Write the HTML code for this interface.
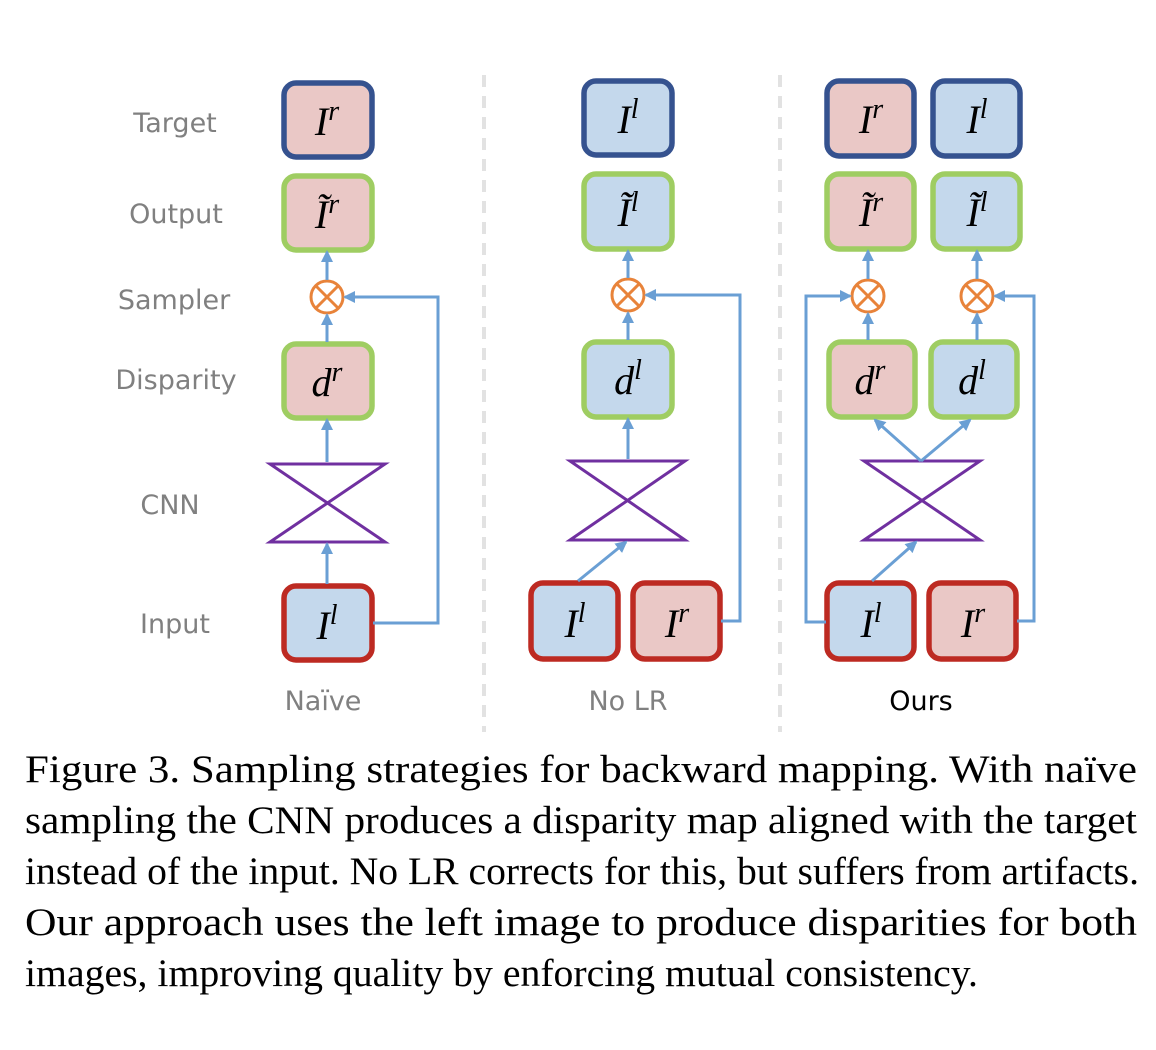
<!DOCTYPE html>
<html><head><meta charset="utf-8"><style>
html,body{margin:0;padding:0;background:#fff;}
svg{display:block}
.lab{font-family:"DejaVu Sans","Liberation Sans",sans-serif;font-size:27px;fill:#808080;text-anchor:middle}
.m{font-family:"Liberation Serif",serif;font-style:italic;font-size:40px;fill:#000;text-anchor:middle}
.cap{font-family:"Liberation Serif",serif;font-size:39px;fill:#000}
</style></head><body>
<svg width="1156" height="1050" viewBox="0 0 1156 1050" xmlns="http://www.w3.org/2000/svg">
<defs>
<marker id="a" markerWidth="12" markerHeight="12" refX="10" refY="6" orient="auto" markerUnits="userSpaceOnUse"><path d="M0,0 L12,6 L0,12 z" fill="#6a9fd4"/></marker>
</defs>
<line x1="484" y1="75" x2="484" y2="732" stroke="#e2e2e2" stroke-width="4" stroke-dasharray="12,9"/>
<line x1="780" y1="75" x2="780" y2="732" stroke="#e2e2e2" stroke-width="4" stroke-dasharray="12,9"/>
<text class="lab" x="175" y="132">Target</text>
<text class="lab" x="176" y="223">Output</text>
<text class="lab" x="174" y="309">Sampler</text>
<text class="lab" x="176" y="389">Disparity</text>
<text class="lab" x="170" y="514">CNN</text>
<text class="lab" x="175" y="633">Input</text>
<text class="lab" x="323" y="710">Naïve</text>
<text class="lab" x="628" y="710">No LR</text>
<text class="lab" x="921" y="710" style="fill:#000">Ours</text>

<g stroke-width="5.5">
<rect x="284" y="83" width="88" height="74" rx="12" fill="#eac8c6" stroke="#35528f"/>
<rect x="284" y="176" width="88" height="74" rx="12" fill="#eac8c6" stroke="#9fcd62"/>
<rect x="284" y="344" width="88" height="74" rx="12" fill="#eac8c6" stroke="#9fcd62"/>
<rect x="284" y="586" width="88" height="74" rx="12" fill="#c4d8ec" stroke="#bd2a22"/>
<rect x="584" y="81" width="88" height="74" rx="12" fill="#c4d8ec" stroke="#35528f"/>
<rect x="584" y="174" width="88" height="75" rx="12" fill="#c4d8ec" stroke="#9fcd62"/>
<rect x="584" y="342" width="88" height="75" rx="12" fill="#c4d8ec" stroke="#9fcd62"/>
<rect x="531" y="583" width="87" height="76" rx="12" fill="#c4d8ec" stroke="#bd2a22"/>
<rect x="633" y="583" width="87" height="76" rx="12" fill="#eac8c6" stroke="#bd2a22"/>
<rect x="827" y="81" width="87" height="75" rx="12" fill="#eac8c6" stroke="#35528f"/>
<rect x="933" y="81" width="87" height="75" rx="12" fill="#c4d8ec" stroke="#35528f"/>
<rect x="827" y="174" width="87" height="75" rx="12" fill="#eac8c6" stroke="#9fcd62"/>
<rect x="933" y="174" width="87" height="75" rx="12" fill="#c4d8ec" stroke="#9fcd62"/>
<rect x="829" y="342" width="86" height="75" rx="12" fill="#eac8c6" stroke="#9fcd62"/>
<rect x="931" y="342" width="86" height="75" rx="12" fill="#c4d8ec" stroke="#9fcd62"/>
<rect x="827" y="583" width="87" height="76" rx="12" fill="#c4d8ec" stroke="#bd2a22"/>
<rect x="929" y="583" width="87" height="76" rx="12" fill="#eac8c6" stroke="#bd2a22"/>
</g>

<g fill="none" stroke="#7030a0" stroke-width="3">
<path d="M270,464 L385,464 L270,542 L385,542 Z"/>
<path d="M570,461 L685,461 L570,540 L685,540 Z"/>
<path d="M864,461 L980,461 L864,540 L980,540 Z"/>
</g>

<g fill="#fff" stroke="#e8833a" stroke-width="3">
<circle cx="327" cy="297" r="16"/><path d="M316,286 L338,308 M338,286 L316,308"/>
<circle cx="628" cy="295" r="16"/><path d="M617,284 L639,306 M639,284 L617,306"/>
<circle cx="868" cy="296" r="16"/><path d="M857,285 L879,307 M879,285 L857,307"/>
<circle cx="977" cy="296" r="16"/><path d="M966,285 L988,307 M988,285 L966,307"/>
</g>

<g fill="none" stroke="#6a9fd4" stroke-width="3" marker-end="url(#a)">
<line x1="327" y1="342" x2="327" y2="315"/>
<line x1="327" y1="280" x2="327" y2="252"/>
<line x1="327" y1="462" x2="327" y2="420"/>
<line x1="327" y1="584" x2="327" y2="544"/>
<path d="M373,623 L438,623 L438,297 L345,297"/>
<line x1="628" y1="340" x2="628" y2="313"/>
<line x1="628" y1="278" x2="628" y2="251"/>
<line x1="628" y1="459" x2="628" y2="419"/>
<line x1="578" y1="581" x2="626" y2="542"/>
<path d="M721,621 L740,621 L740,295 L646,295"/>
<line x1="868" y1="340" x2="868" y2="314"/>
<line x1="868" y1="279" x2="868" y2="251"/>
<line x1="977" y1="340" x2="977" y2="314"/>
<line x1="977" y1="279" x2="977" y2="251"/>
<line x1="921" y1="461" x2="875" y2="420"/>
<line x1="921" y1="461" x2="970" y2="420"/>
<line x1="872" y1="581" x2="916" y2="542"/>
<path d="M826,622 L806,622 L806,296 L850,296"/>
<path d="M1017,621 L1034,621 L1034,296 L995,296"/>
</g>

<g>
<text x="327" y="135" class="m">I<tspan dy="-15" font-size="28">r</tspan></text>
<text x="327" y="228" class="m">Ĩ<tspan dy="-15" font-size="28">r</tspan></text>
<text x="327" y="396" class="m">d<tspan dy="-15" font-size="28">r</tspan></text>
<text x="327" y="639" class="m">I<tspan dy="-15" font-size="28">l</tspan></text>
<text x="628" y="133" class="m">I<tspan dy="-15" font-size="28">l</tspan></text>
<text x="628" y="226" class="m">Ĩ<tspan dy="-15" font-size="28">l</tspan></text>
<text x="628" y="394" class="m">d<tspan dy="-15" font-size="28">l</tspan></text>
<text x="575" y="637" class="m">I<tspan dy="-15" font-size="28">l</tspan></text>
<text x="677" y="637" class="m">I<tspan dy="-15" font-size="28">r</tspan></text>
<text x="871" y="133" class="m">I<tspan dy="-15" font-size="28">r</tspan></text>
<text x="977" y="133" class="m">I<tspan dy="-15" font-size="28">l</tspan></text>
<text x="871" y="226" class="m">Ĩ<tspan dy="-15" font-size="28">r</tspan></text>
<text x="977" y="226" class="m">Ĩ<tspan dy="-15" font-size="28">l</tspan></text>
<text x="870" y="394" class="m">d<tspan dy="-15" font-size="28">r</tspan></text>
<text x="972" y="394" class="m">d<tspan dy="-15" font-size="28">l</tspan></text>
<text x="871" y="637" class="m">I<tspan dy="-15" font-size="28">l</tspan></text>
<text x="973" y="637" class="m">I<tspan dy="-15" font-size="28">r</tspan></text>
</g>

<text class="cap" x="25" y="782" textLength="1112" lengthAdjust="spacingAndGlyphs">Figure 3. Sampling strategies for backward mapping.  With naïve</text>
<text class="cap" x="25" y="833" textLength="1112" lengthAdjust="spacingAndGlyphs">sampling the CNN produces a disparity map aligned with the target</text>
<text class="cap" x="25" y="884" textLength="1114" lengthAdjust="spacingAndGlyphs">instead of the input. No LR corrects for this, but suffers from artifacts.</text>
<text class="cap" x="25" y="935" textLength="1112" lengthAdjust="spacingAndGlyphs">Our approach uses the left image to produce disparities for both</text>
<text class="cap" x="25" y="986" textLength="953" lengthAdjust="spacingAndGlyphs">images, improving quality by enforcing mutual consistency.</text>
</svg>
</body></html>
